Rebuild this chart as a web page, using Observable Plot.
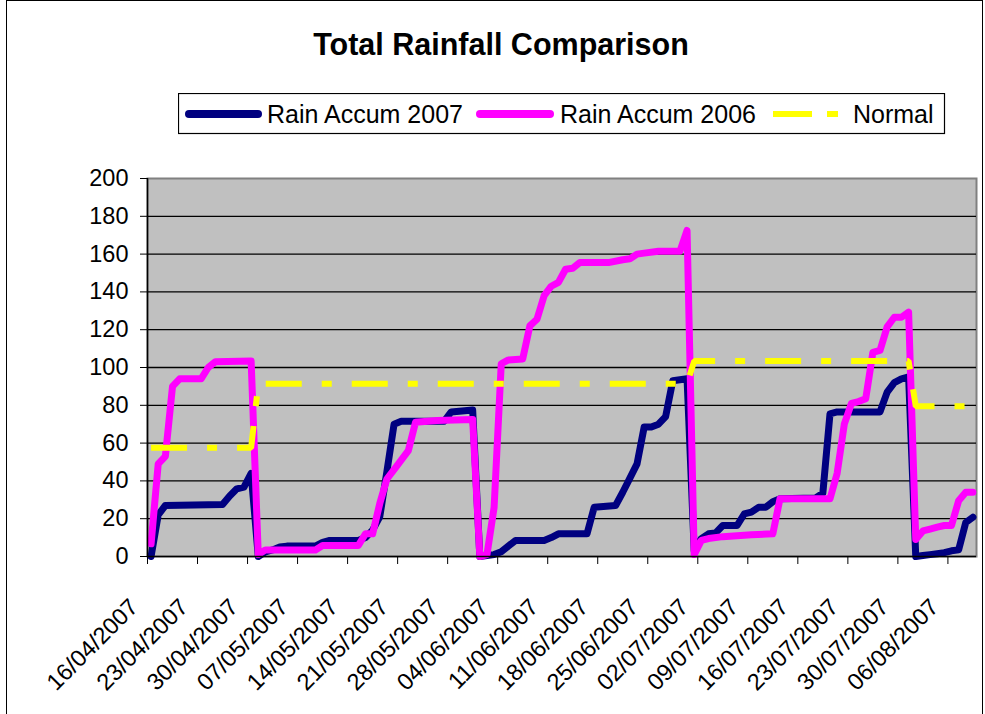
<!DOCTYPE html>
<html>
<head>
<meta charset="utf-8">
<script src="https://cdn.jsdelivr.net/npm/d3@7"></script>
<script src="https://cdn.jsdelivr.net/npm/@observablehq/plot@0.6"></script>
<style>
  html, body { margin: 0; padding: 0; background: #fff; }
  body { font-family: Arial, "Liberation Sans", sans-serif; }
  #chart { position: relative; width: 985px; height: 714px; overflow: hidden; background: #fff; }
  #border { position: absolute; left: 6px; top: 0px; width: 977px; height: 740px; border: 1.5px solid #000; box-sizing: border-box; }
  #title { position: absolute; left: 0; top: 29px; width: 1002px; text-align: center; font-weight: bold; font-size: 30.5px; line-height: 30.5px; color: #000; }
  #legend { position: absolute; left: 178px; top: 93px; }
  #plot { position: absolute; left: 0; top: 140px; }
</style>
</head>
<body>
<div id="chart">
  <div id="border"></div>
  <div id="title"></div>
  <svg id="legend" width="768" height="42"></svg>
  <div id="plot"></div>
</div>
<script>
// ---------- DATA ----------
const chartTitle = "Total Rainfall Comparison";
const seriesNames = ["Rain Accum 2007", "Rain Accum 2006", "Normal"];
const seriesColors = ["#000080", "#ff00ff", "#ffff00"];

// Rain Accum 2007 (vertices of the daily line)
const dates2007 = [
  "2007-04-16","2007-04-17","2007-04-18","2007-04-26","2007-04-27","2007-04-28","2007-04-29","2007-04-30",
  "2007-05-01","2007-05-02","2007-05-03","2007-05-04","2007-05-05","2007-05-09","2007-05-10","2007-05-11",
  "2007-05-15","2007-05-16","2007-05-17","2007-05-18","2007-05-19","2007-05-20","2007-05-21","2007-05-27",
  "2007-05-28","2007-05-31",
  "2007-06-01","2007-06-02","2007-06-03","2007-06-04","2007-06-05","2007-06-06","2007-06-10","2007-06-11",
  "2007-06-12","2007-06-16","2007-06-17","2007-06-20","2007-06-21","2007-06-22","2007-06-23","2007-06-24",
  "2007-06-25","2007-06-26","2007-06-27","2007-06-28","2007-06-29","2007-06-30",
  "2007-07-01","2007-07-02","2007-07-03","2007-07-04","2007-07-05","2007-07-07","2007-07-08","2007-07-09",
  "2007-07-10","2007-07-11","2007-07-12","2007-07-13","2007-07-18","2007-07-19","2007-07-20","2007-07-21",
  "2007-07-27","2007-07-28","2007-07-29","2007-07-30","2007-07-31",
  "2007-08-01","2007-08-02","2007-08-03","2007-08-04","2007-08-05","2007-08-06","2007-08-07","2007-08-08",
  "2007-08-09"
];
const rain2007 = [
  0, 22, 27, 27.5, 32, 35.8, 36.7, 44,
  0, 2.5, 3.5, 5, 5.5, 5.5, 7.5, 8.5,
  8.5, 10, 14, 21, 45, 70, 71.5, 71.5,
  76.5, 77.5,
  0, 0.5, 1, 2.5, 5.5, 8.5, 8.5, 10,
  12, 12, 26, 27, 34, 41.5, 49, 68.5,
  68.5, 70, 74, 93, 93.5, 94,
  3, 9.5, 12, 12.5, 16.4, 16.4, 22.5, 23.5,
  26, 26, 29, 30.5, 31, 33.5, 75.5, 76.5,
  76.5, 87, 92, 94, 95,
  0, 0.5, 1, 1.5, 2, 3, 3.5, 18,
  20.8
];

// Rain Accum 2006 (plotted on the same calendar days)
const dates2006 = [
  "2007-04-16","2007-04-17","2007-04-18","2007-04-19","2007-04-20","2007-04-23","2007-04-24","2007-04-25",
  "2007-04-30",
  "2007-05-01","2007-05-02","2007-05-09","2007-05-10","2007-05-15","2007-05-16","2007-05-17","2007-05-18",
  "2007-05-19","2007-05-20","2007-05-21","2007-05-22","2007-05-23","2007-05-26","2007-05-31",
  "2007-06-01","2007-06-02","2007-06-03","2007-06-04","2007-06-05","2007-06-07","2007-06-08","2007-06-09",
  "2007-06-10","2007-06-11","2007-06-12","2007-06-13","2007-06-14","2007-06-15","2007-06-19","2007-06-21",
  "2007-06-22","2007-06-23","2007-06-24","2007-06-26","2007-06-29","2007-06-30",
  "2007-07-01","2007-07-02","2007-07-03","2007-07-05","2007-07-09","2007-07-12","2007-07-13","2007-07-20",
  "2007-07-21","2007-07-22","2007-07-23","2007-07-24","2007-07-25","2007-07-26","2007-07-27","2007-07-28",
  "2007-07-29","2007-07-30","2007-07-31",
  "2007-08-01","2007-08-02","2007-08-03","2007-08-04","2007-08-05","2007-08-06","2007-08-07","2007-08-08",
  "2007-08-09"
];
const rain2006 = [
  6.7, 49, 53, 90, 94, 94, 100, 103,
  103.5,
  1, 3.5, 3.5, 5.8, 5.8, 12, 12, 28,
  41, 46, 51, 56, 71, 72, 72.5,
  0, 1, 26, 102, 104, 104.5, 122, 125.5,
  138, 143, 145, 152, 152.5, 155.5, 155.5, 157,
  157.5, 160, 160.5, 161.5, 161.5, 172.5,
  1, 8.5, 9.5, 10.5, 11.5, 12, 30.5, 30.5,
  44, 70, 81, 82, 83.5, 108, 109, 121.5,
  126.6, 126.6, 129.3,
  9, 13.5, 14.5, 15.5, 16.4, 16.4, 29.5, 34,
  34
];

// Normal (monthly normal accumulation)
const datesNormal = ["2007-04-16","2007-04-30","2007-05-01","2007-06-30","2007-07-01","2007-07-31","2007-08-01","2007-08-09"];
const normalValues = [57.5, 57.5, 91.4, 91.4, 103.4, 103.4, 79.5, 79.5];

// Axes
const xStart = "2007-04-16";
const xEnd = "2007-08-10";
const xTickDates = ["2007-04-16","2007-04-23","2007-04-30","2007-05-07","2007-05-14","2007-05-21","2007-05-28",
  "2007-06-04","2007-06-11","2007-06-18","2007-06-25","2007-07-02","2007-07-09","2007-07-16","2007-07-23",
  "2007-07-30","2007-08-06"];
const xTickLabels = ["16/04/2007","23/04/2007","30/04/2007","07/05/2007","14/05/2007","21/05/2007","28/05/2007",
  "04/06/2007","11/06/2007","18/06/2007","25/06/2007","02/07/2007","09/07/2007","16/07/2007","23/07/2007",
  "30/07/2007","06/08/2007"];
const yTicks = [0, 20, 40, 60, 80, 100, 120, 140, 160, 180, 200];

// ---------- BUILD ----------
const parse = d3.utcParse("%Y-%m-%d");
// Excel date axis: each day's point sits in the middle of its day slot
const dayMid = s => new Date(parse(s).getTime() + 12 * 3600 * 1000);
const rows = (dates, values) => dates.map((d, i) => ({date: dayMid(d), value: values[i]}));

const data2007 = rows(dates2007, rain2007);
const data2006 = rows(dates2006, rain2006);
const dataNormal = rows(datesNormal, normalValues);
const ticks = xTickDates.map((d, i) => ({date: parse(d), label: xTickLabels[i]}));

document.getElementById("title").textContent = chartTitle;

const fontFamily = 'Arial, "Liberation Sans", sans-serif';

const plot = Plot.plot({
  width: 985,
  height: 574,
  marginLeft: 147,
  marginRight: 9,
  marginTop: 38,
  marginBottom: 158,
  style: {fontFamily, fontSize: "23.5px", color: "#000", background: "transparent", overflow: "visible"},
  x: {type: "utc", domain: [parse(xStart), parse(xEnd)], label: null},
  y: {domain: [0, 200], label: null},
  marks: [
    Plot.frame({fill: "#c0c0c0", stroke: "#808080", strokeWidth: 2}),
    Plot.gridY(yTicks.slice(1, -1), {stroke: "#000", strokeOpacity: 1, strokeWidth: 1.3}),
    Plot.line(data2007, {x: "date", y: "value", stroke: seriesColors[0], strokeWidth: 7,
      strokeLinejoin: "round", strokeLinecap: "round"}),
    Plot.line(data2006, {x: "date", y: "value", stroke: seriesColors[1], strokeWidth: 7,
      strokeLinejoin: "round", strokeLinecap: "round"}),
    Plot.line(dataNormal, {x: "date", y: "value", stroke: seriesColors[2], strokeWidth: 6,
      strokeDasharray: "36,20,10,20", strokeLinecap: "butt", strokeLinejoin: "miter"}),
    Plot.ruleX([parse(xStart)], {stroke: "#000", strokeWidth: 1.5}),
    Plot.ruleY([0], {stroke: "#000", strokeWidth: 1.5}),
    Plot.axisY(yTicks, {tickSize: 7, tickPadding: 12, tickFormat: d => String(d), stroke: "#000",
      fontSize: "23.5px", label: null}),
    Plot.axisX(ticks.map(t => t.date), {tickSize: 8, tickFormat: () => "", stroke: "#000", label: null}),
    Plot.text(ticks, {x: "date", text: "label", frameAnchor: "bottom", rotate: -45,
      textAnchor: "end", lineAnchor: "bottom", dx: -8, dy: 52, fontSize: "23.5px", fill: "#000"})
  ]
});
document.getElementById("plot").appendChild(plot);

// ---------- LEGEND ----------
const legend = d3.select("#legend");
legend.append("rect").attr("x", 0.5).attr("y", 0.5).attr("width", 766).attr("height", 40)
  .attr("fill", "#fff").attr("stroke", "#000").attr("stroke-width", 1.2);
const items = [
  {x1: 11, x2: 80, tx: 89, width: 8, cap: "round", dash: null},
  {x1: 302, x2: 372, tx: 382, width: 8, cap: "round", dash: null},
  {x1: 595, x2: 660, tx: 675, width: 6, cap: "butt", dash: "39,15,11,100"}
];
items.forEach((it, i) => {
  legend.append("line").attr("x1", it.x1).attr("x2", it.x2).attr("y1", 21).attr("y2", 21)
    .attr("stroke", seriesColors[i]).attr("stroke-width", it.width).attr("stroke-linecap", it.cap)
    .attr("stroke-dasharray", it.dash);
  legend.append("text").attr("x", it.tx).attr("y", 30).text(seriesNames[i])
    .attr("font-family", fontFamily).attr("font-size", 25).attr("fill", "#000");
});
</script>
</body>
</html>
